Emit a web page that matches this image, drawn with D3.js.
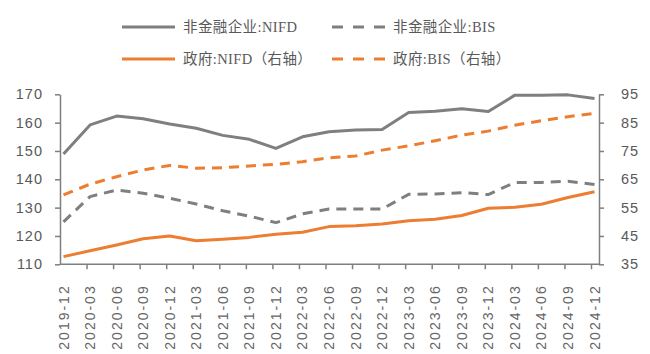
<!DOCTYPE html>
<html><head><meta charset="utf-8">
<script src="https://cdn.jsdelivr.net/npm/d3@7/dist/d3.min.js"></script>
<style>
html,body{margin:0;padding:0;background:#fff;}
svg{display:block;}
</style></head>
<body>
<svg id="chart" width="650" height="354"></svg>
<script>
const categories = ["2019-12","2020-03","2020-06","2020-09","2020-12","2021-03","2021-06","2021-09","2021-12","2022-03","2022-06","2022-09","2022-12","2023-03","2023-06","2023-09","2023-12","2024-03","2024-06","2024-09","2024-12"];
const corpNIFD = [148.9,159.2,162.3,161.4,159.5,158.0,155.5,154.1,150.9,155.0,156.8,157.4,157.6,163.6,164.0,164.9,163.9,169.7,169.7,169.8,168.5];
const corpBIS  = [125.0,133.9,136.2,135.1,133.3,131.3,128.9,127.0,124.7,127.8,129.5,129.5,129.5,134.7,134.8,135.3,134.6,138.9,138.9,139.3,138.2];
const govNIFD  = [37.7,39.8,41.8,44.0,45.0,43.3,43.8,44.5,45.6,46.3,48.3,48.6,49.2,50.4,50.9,52.2,54.8,55.1,56.2,58.6,60.6];
const govBIS   = [59.5,63.3,65.9,68.3,69.9,68.9,69.1,69.7,70.3,71.2,72.6,73.2,75.3,76.8,78.6,80.6,82.0,84.1,85.7,87.1,88.3];
const leftTicks = [110,120,130,140,150,160,170];
const rightTicks = [35,45,55,65,75,85,95];
const seriesNames = ["非金融企业:NIFD","非金融企业:BIS","政府:NIFD（右轴）","政府:BIS（右轴）"];

const GRAY = "#7f7f7f", ORANGE = "#ed7d31", TXT = "#595959";
const svg = d3.select("#chart");
const plotTop = 94.3, plotBottom = 264.3, leftX = 60, rightX = 599;

const x = d3.scalePoint().domain(categories).range([63.5, 594.5]);
const yL = d3.scaleLinear().domain([110,170]).range([plotBottom, plotTop]);
const yR = d3.scaleLinear().domain([35,95]).range([plotBottom, plotTop]);

// x axis
const xAxisG = svg.append("g");
xAxisG.append("line").attr("x1", leftX).attr("x2", rightX).attr("y1", plotBottom).attr("y2", plotBottom)
  .attr("stroke", GRAY).attr("stroke-width", 1.5);
categories.forEach((c,i)=>{
  const tx = x(c) - 3;
  if (i>0) xAxisG.append("line").attr("x1", tx).attr("x2", tx).attr("y1", plotBottom).attr("y2", plotBottom+5)
    .attr("stroke", GRAY).attr("stroke-width", 1.5);
  xAxisG.append("text")
    .attr("transform", `translate(${x(c)+5},${plotBottom+20}) rotate(-90)`)
    .attr("text-anchor","end")
    .attr("font-family","'Liberation Sans', Arial, sans-serif")
    .attr("font-size", 14).attr("letter-spacing", 2)
    .attr("fill", "#666").text(c);
});

// left axis
const lAxis = d3.axisLeft(yL).tickValues(leftTicks).tickSize(5).tickPadding(12).tickSizeOuter(0);
const lg = svg.append("g").attr("transform", `translate(${leftX},0)`).call(lAxis);
// right axis
const rAxis = d3.axisRight(yR).tickValues(rightTicks).tickSize(5).tickPadding(17).tickSizeOuter(0);
const rg = svg.append("g").attr("transform", `translate(${rightX},0)`).call(rAxis);
[lg, rg].forEach(g=>{
  g.select(".domain").attr("stroke", GRAY).attr("stroke-width", 1.5);
  g.selectAll(".tick line").attr("stroke", GRAY).attr("stroke-width", 1.5);
  g.selectAll(".tick text").attr("fill", TXT).attr("font-size", 14.5)
    .attr("font-family","'Liberation Sans', Arial, sans-serif").attr("letter-spacing", 1);
});

// lines
const mk = (scale)=> d3.line().x((d,i)=>x(categories[i])).y(d=>scale(d));
const series = [
  {data: corpNIFD, scale: yL, color: GRAY, dash: null},
  {data: corpBIS, scale: yL, color: GRAY, dash: "10,7"},
  {data: govNIFD, scale: yR, color: ORANGE, dash: null},
  {data: govBIS, scale: yR, color: ORANGE, dash: "10,7"}
];
series.forEach(s=>{
  svg.append("path").datum(s.data).attr("d", mk(s.scale))
    .attr("fill","none").attr("stroke", s.color).attr("stroke-width", 3)
    .attr("stroke-linejoin","round")
    .attr("stroke-dasharray", s.dash);
});

// legend
const legPos = [[122,27],[332,27],[122,59],[332,59]];
series.forEach((s,i)=>{
  const [lx,ly] = legPos[i];
  svg.append("line").attr("x1", lx).attr("x2", lx+53).attr("y1", ly).attr("y2", ly)
    .attr("stroke", s.color).attr("stroke-width", 3)
    .attr("stroke-dasharray", s.dash ? "11,10" : null);
  svg.append("text").attr("x", lx+61).attr("y", ly+5)
    .attr("font-family","'Liberation Serif', 'Noto Sans CJK SC', serif")
    .attr("font-size", 14.5).attr("letter-spacing", 0.4)
    .attr("fill", TXT).text(seriesNames[i]);
});
</script>
</body></html>
